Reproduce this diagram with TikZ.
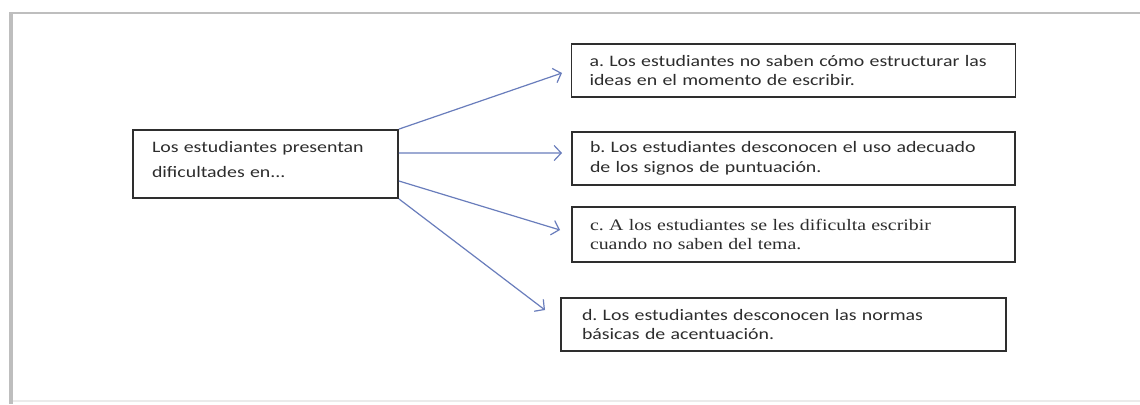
\documentclass[tikz,border=0pt]{standalone}
\usepackage{fontspec}
\usetikzlibrary{arrows.meta}
\newfontfamily\boxsans[FakeStretch=1.24]{Carlito}
\newfontfamily\boxserif[FakeStretch=1.24]{Liberation Serif}
\definecolor{arrowblue}{RGB}{105,125,188}
\definecolor{framegray}{RGB}{190,190,190}
\definecolor{textgray}{RGB}{45,45,45}
\frenchspacing
\begin{document}
\begin{tikzpicture}[x=1bp,y=-1bp,
  textbox/.style={draw=black!82, line width=1.8bp, align=left, inner ysep=0pt,
    inner xsep=18bp, minimum height=53bp, text=textgray,
    font={\frenchspacing\boxsans\fontsize{16bp}{19.5bp}\selectfont}},
  link/.style={draw=arrowblue, line width=1.2bp,
    -{Straight Barb[length=7bp,width=15bp,line width=1.2bp]}}
]
\useasboundingbox (0,0) rectangle (1140,404);
\fill[white] (0,0) rectangle (1140,404);
% outer frame
\draw[framegray, line width=4bp] (11,13) -- (11,404);
\draw[framegray, line width=2.5bp] (9,13) -- (1140,13);
\draw[black!8, line width=1.2bp] (13,401) -- (1140,401);

% nodes
\node[textbox, text width=227bp, minimum width=265bp, minimum height=68bp, inner xsep=19bp,
  font={\frenchspacing\boxsans\fontsize{16bp}{25bp}\selectfont}]
  (main) at (265.5,164) {Los estudiantes presentan\\dificultades en...\par\vspace{9bp}};
\node[textbox, text width=408bp, minimum width=444bp] (a) at (793.5,70.5)
  {\mbox{a. Los estudiantes no saben cómo estructurar las}\\\mbox{ideas en el momento de escribir.}};
\node[textbox, text width=407bp, minimum width=443bp] (b) at (793.5,158.5)
  {\mbox{b. Los estudiantes desconocen el uso adecuado}\\\mbox{de los signos de puntuación.}};
\node[textbox, text width=407bp, minimum width=443bp, minimum height=55bp,
  font={\frenchspacing\boxserif\fontsize{16bp}{19.5bp}\selectfont}] (c) at (793.5,234.5)
  {\mbox{c. A los estudiantes se les dificulta escribir}\\\mbox{cuando no saben del tema.}};
\node[textbox, text width=403bp, minimum width=445bp, inner xsep=21bp] (d) at (783.5,324.5)
  {\mbox{d. Los estudiantes desconocen las normas}\\\mbox{básicas de acentuación.}};

% arrow ends
\coordinate (ae) at (562,73);
\coordinate (be) at (562,153);
\coordinate (ce) at (560,230);
\coordinate (de) at (545,310);

\draw[link] (main.north east) -- (ae);
\draw[link] ([yshift=11bp]main.east) -- (be);
\draw[link] ([yshift=-17bp]main.east) -- (ce);
\draw[link] (main.south east) -- (de);
\end{tikzpicture}
\end{document}
